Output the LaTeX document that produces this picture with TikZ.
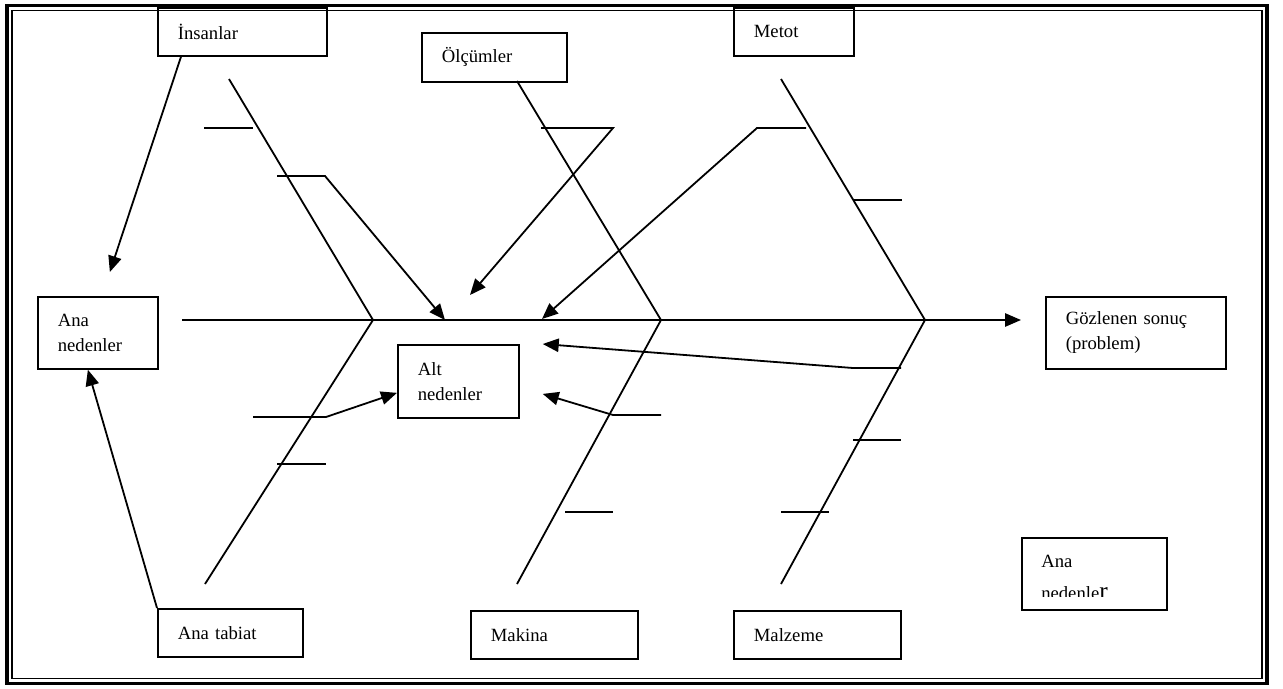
\documentclass[tikz,border=0pt]{standalone}
\usepackage{fontspec}
\setmainfont{Liberation Serif}
\usetikzlibrary{arrows.meta}
\newcommand\causefont{\fontsize{14}{18.75}\selectfont}

\begin{document}
\begin{tikzpicture}[
    x=0.75pt, y=-0.75pt,
    cause/.style={draw, line width=1.3pt, align=left, inner xsep=15pt, inner ysep=0pt, anchor=north west, font=\causefont},
    bone/.style={line width=1.35pt},
    arrow/.style={-{Triangle[length=12pt,width=10pt]}, line width=1.35pt}
]
\useasboundingbox (0,0) rectangle (1283,689);

% Frame
\draw[line width=2.8pt] (7,5.5) rectangle (1267,683.5);
\draw[line width=1.3pt] (12,10.5) rectangle (1262,678.5);

% Top causes
\node[cause, text width=96.75pt, minimum height=36pt] (insan) at (157,7) {İnsanlar};
\node[cause, text width=78.75pt, minimum height=36.75pt] (olcum) at (421,32) {Ölçümler};
\node[cause, text width=60pt, minimum height=36pt] (metot) at (733,7) {Metot};

% Middle boxes
\node[cause, text width=60pt, minimum height=54pt] (anaL) at (37,296) {Ana\\nedenler};
\node[cause, text width=60.75pt, minimum height=54.75pt] (alt) at (397,344) {Alt\\nedenler};
\node[cause, text width=105pt, minimum height=54pt] (goz) at (1045,296) {Gözlenen sonuç\\(problem)};

% Bottom causes
\node[cause, text width=78.75pt, minimum height=36pt] (tabiat) at (157,608) {Ana tabiat};
\node[cause, text width=95.25pt, minimum height=36pt] (makina) at (470,610) {Makina};
\node[cause, text width=95.25pt, minimum height=36pt] (malzeme) at (733,610) {Malzeme};

% Legend box
\node[cause, minimum width=108.75pt, minimum height=54pt] (anaR) at (1021,537) {};
\begin{scope}
  \clip (anaR.north west) rectangle ([yshift=11pt]anaR.south east);
  \node[anchor=base west, font=\causefont, inner sep=0pt] (anaRtop) at (1041,567) {Ana};
  \node[anchor=base west, font=\causefont, inner sep=0pt] (anaRbot) at (1041,599) {nedenle{\fontsize{19}{19}\selectfont r}};
\end{scope}

% Spine
\coordinate (tail) at (182,320);
\coordinate (head) at (1021,320);
\draw[arrow] (tail) -- (head);

% Main bones
\draw[bone] (229,79) -- (373,320) -- (205,584);
\draw[bone] (517,81) -- (661,320) -- (517,584);
\draw[bone] (781,79) -- (925,320) -- (781,584);

% Sub-cause ticks
\draw[bone] (204,128) -- (253,128);
\draw[bone] (277,464) -- (326,464);
\draw[bone] (853,200) -- (902,200);
\draw[bone] (565,512) -- (613,512);
\draw[bone] (853,440) -- (901,440);
\draw[bone] (781,512) -- (829,512);

% Sub-cause arrows
\draw[arrow] (277,176) -- (325,176) -- (445,320);
\draw[arrow] (541,128) -- (613,128) -- (470,295);
\draw[arrow] (806,128) -- (757,128) -- (542,319);
\draw[arrow] (253,417) -- (326,417) -- ([yshift=-8.6pt]alt.west);
\draw[arrow] (661,415) -- (613,415) -- ([xshift=17.25pt,yshift=-9.4pt]alt.east);
\draw[arrow] (901,368) -- (853,368) -- ([xshift=17.25pt]alt.north east);

% Main cause arrows
\draw[arrow] (insan.south west) ++(24,0) -- ([xshift=9pt,yshift=18pt]anaL.north);
\draw[arrow] (tabiat.north west) -- ([xshift=-7.5pt]anaL.south);

\end{tikzpicture}
\end{document}
